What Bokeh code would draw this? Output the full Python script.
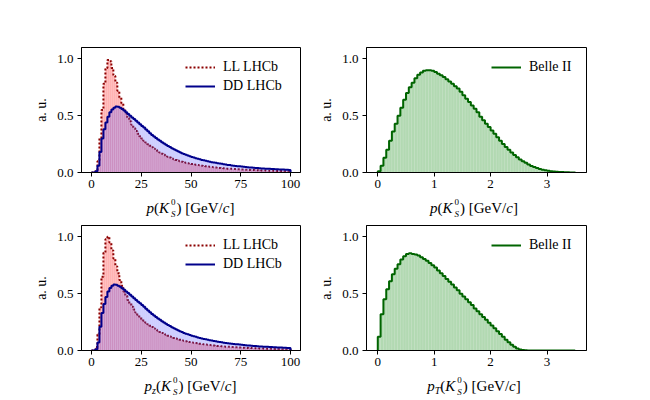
from bokeh.plotting import figure
from bokeh.layouts import column, row
from bokeh.models import Range1d, FixedTicker, NumeralTickFormatter, Legend, LegendItem, Div
from bokeh.embed import file_html
from bokeh.resources import INLINE

# ---------------- data ----------------
lhcb_edges = list(range(0, 101))                     # GeV, 1 GeV bins
belle_edges = [round(i * 0.05, 2) for i in range(71)]  # GeV, 0.05 GeV bins

ll_p = [0.0, 0.0, 0.02, 0.10, 0.30, 0.55, 0.78, 0.92, 0.99, 0.98,
        0.92, 0.85, 0.79, 0.72, 0.66, 0.61, 0.56, 0.52, 0.48, 0.45,
        0.42, 0.39, 0.365, 0.34, 0.32, 0.30, 0.28, 0.264, 0.249, 0.235,
        0.222, 0.209, 0.197, 0.186, 0.175, 0.165, 0.156, 0.147, 0.139, 0.131,
        0.124, 0.117, 0.111, 0.105, 0.1, 0.095, 0.09, 0.086, 0.082, 0.078,
        0.075, 0.072, 0.069, 0.066, 0.063, 0.06, 0.057, 0.055, 0.052, 0.05,
        0.048, 0.046, 0.044, 0.042, 0.04, 0.039, 0.037, 0.036, 0.034, 0.033,
        0.032, 0.031, 0.03, 0.029, 0.028, 0.027, 0.026, 0.025, 0.024, 0.023,
        0.022, 0.021, 0.02, 0.02, 0.019, 0.018, 0.018, 0.017, 0.016, 0.016,
        0.015, 0.015, 0.014, 0.014, 0.013, 0.013, 0.012, 0.012, 0.011, 0.011]

dd_p = [0.0, 0.0, 0.01, 0.06, 0.18, 0.30, 0.38, 0.44, 0.49, 0.53,
        0.555, 0.57, 0.58, 0.578, 0.57, 0.558, 0.545, 0.53, 0.515, 0.5,
        0.485, 0.47, 0.455, 0.44, 0.425, 0.41, 0.395, 0.378, 0.362, 0.346,
        0.331, 0.317, 0.304, 0.291, 0.279, 0.267, 0.256, 0.245, 0.234, 0.224,
        0.214, 0.204, 0.195, 0.186, 0.178, 0.17, 0.163, 0.156, 0.149, 0.143,
        0.137, 0.131, 0.126, 0.121, 0.116, 0.111, 0.107, 0.103, 0.099, 0.095,
        0.091, 0.088, 0.085, 0.082, 0.079, 0.076, 0.073, 0.07, 0.067, 0.065,
        0.062, 0.06, 0.058, 0.056, 0.054, 0.052, 0.05, 0.048, 0.046, 0.045,
        0.043, 0.042, 0.04, 0.039, 0.038, 0.036, 0.035, 0.034, 0.033, 0.032,
        0.031, 0.03, 0.029, 0.028, 0.027, 0.027, 0.026, 0.025, 0.024, 0.023]

ll_pz = [0.0, 0.0, 0.03, 0.14, 0.38, 0.65, 0.86, 0.98, 1.0, 0.95,
         0.88, 0.81, 0.74, 0.68, 0.62, 0.57, 0.52, 0.48, 0.445, 0.415,
         0.385, 0.36, 0.335, 0.313, 0.294, 0.276, 0.26, 0.245, 0.231, 0.218,
         0.206, 0.194, 0.183, 0.173, 0.163, 0.154, 0.146, 0.138, 0.13, 0.123,
         0.117, 0.111, 0.105, 0.1, 0.095, 0.09, 0.086, 0.082, 0.078, 0.074,
         0.071, 0.068, 0.065, 0.062, 0.059, 0.057, 0.054, 0.052, 0.05, 0.048,
         0.046, 0.044, 0.042, 0.04, 0.039, 0.037, 0.036, 0.034, 0.033, 0.032,
         0.031, 0.03, 0.029, 0.028, 0.027, 0.026, 0.025, 0.024, 0.023, 0.022,
         0.021, 0.02, 0.02, 0.019, 0.018, 0.018, 0.017, 0.016, 0.016, 0.015,
         0.015, 0.014, 0.014, 0.013, 0.013, 0.012, 0.012, 0.011, 0.011, 0.011]

dd_pz = [0.0, 0.0, 0.01, 0.07, 0.21, 0.33, 0.41, 0.47, 0.52, 0.55,
         0.57, 0.58, 0.578, 0.57, 0.56, 0.548, 0.535, 0.52, 0.505, 0.49,
         0.475, 0.46, 0.445, 0.43, 0.415, 0.4, 0.384, 0.368, 0.352, 0.337,
         0.322, 0.308, 0.295, 0.282, 0.27, 0.258, 0.247, 0.236, 0.225, 0.215,
         0.205, 0.196, 0.187, 0.178, 0.17, 0.162, 0.155, 0.148, 0.142, 0.136,
         0.13, 0.125, 0.12, 0.115, 0.11, 0.106, 0.102, 0.098, 0.094, 0.09,
         0.087, 0.084, 0.081, 0.078, 0.075, 0.072, 0.069, 0.067, 0.064, 0.062,
         0.06, 0.058, 0.056, 0.054, 0.052, 0.05, 0.048, 0.046, 0.045, 0.043,
         0.042, 0.04, 0.039, 0.038, 0.036, 0.035, 0.034, 0.033, 0.032, 0.031,
         0.03, 0.029, 0.028, 0.027, 0.026, 0.026, 0.025, 0.024, 0.023, 0.022]

belle_p = [0.01, 0.06, 0.13, 0.20, 0.28, 0.36, 0.43, 0.50, 0.57, 0.64,
           0.70, 0.75, 0.79, 0.83, 0.86, 0.88, 0.895, 0.90, 0.90, 0.895,
           0.885, 0.87, 0.855, 0.84, 0.82, 0.80, 0.78, 0.76, 0.74, 0.71,
           0.68, 0.65, 0.62, 0.59, 0.56, 0.53, 0.49, 0.46, 0.43, 0.40,
           0.37, 0.34, 0.31, 0.28, 0.25, 0.225, 0.20, 0.175, 0.155, 0.135,
           0.115, 0.10, 0.085, 0.07, 0.058, 0.048, 0.039, 0.031, 0.025, 0.02,
           0.015, 0.012, 0.009, 0.007, 0.005, 0.004, 0.003, 0.002, 0.001, 0.001]

belle_pt = [0.12, 0.32, 0.45, 0.54, 0.61, 0.67, 0.72, 0.76, 0.80, 0.83,
            0.85, 0.855, 0.85, 0.845, 0.835, 0.82, 0.805, 0.79, 0.77, 0.75,
            0.73, 0.705, 0.68, 0.655, 0.63, 0.605, 0.58, 0.555, 0.53, 0.50,
            0.475, 0.45, 0.425, 0.40, 0.37, 0.345, 0.32, 0.295, 0.27, 0.245,
            0.22, 0.195, 0.17, 0.145, 0.12, 0.095, 0.072, 0.05, 0.032, 0.018,
            0.009, 0.004, 0.002, 0.001, 0.0005, 0.0, 0.0, 0.0, 0.0, 0.0,
            0.0, 0.0, 0.0, 0.0, 0.0, 0.0, 0.0, 0.0, 0.0, 0.0]

lhcb_ticks = [0, 25, 50, 75, 100]
belle_ticks = [0, 1, 2, 3]
y_ticks = [0.0, 0.5, 1.0]

FONT = "Liberation Serif"


def x_label_html(sub, pad_l, frame_w):
    sub_html = ""
    if sub:
        sub_html = ('<span style="font-size:10px;vertical-align:-3px;font-style:italic;">'
                    f'{sub}</span>')
    stack = ('<span style="display:inline-block;vertical-align:-4px;line-height:12px;'
             'font-size:9px;text-align:left;margin-left:2px;margin-right:1px;">'
             '0<br><i>S</i></span>')
    return (f'<div style="display:block;margin-left:{pad_l}px;width:{frame_w}px;'
            f"text-align:center;font-family:'{FONT}';font-size:15px;line-height:16px;"
            f'color:black;white-space:nowrap;">'
            f'<i>p</i>{sub_html}(<i>K</i>{stack}) [GeV/<i>c</i>]</div>')


def make_fig(width, height, bl, br, bt, bb, xr, xticks):
    f = figure(width=width, height=height, x_range=Range1d(*xr), y_range=Range1d(0, 1.1),
               output_backend="svg", toolbar_location=None, title=None,
               min_border_left=bl, min_border_right=br, min_border_top=bt, min_border_bottom=bb)
    f.grid.visible = False
    f.background_fill_color = "white"
    f.border_fill_color = "white"
    f.outline_line_color = "black"
    f.outline_line_width = 1
    f.xaxis.ticker = FixedTicker(ticks=xticks)
    f.yaxis.ticker = FixedTicker(ticks=y_ticks)
    f.yaxis.formatter = NumeralTickFormatter(format="0.0")
    for ax in (f.xaxis, f.yaxis):
        ax.axis_line_color = "black"
        ax.major_tick_line_color = "black"
        ax.major_tick_in = 0
        ax.major_tick_out = 4
        ax.minor_tick_line_color = None
        ax.major_label_text_font = FONT
        ax.major_label_text_font_size = "13px"
        ax.major_label_text_color = "black"
        ax.major_label_standoff = 4
    f.xaxis.major_label_standoff = 3
    f.yaxis.axis_label = "a. u."
    f.yaxis.axis_label_text_font = FONT
    f.yaxis.axis_label_text_font_size = "14px"
    f.yaxis.axis_label_text_font_style = "normal"
    f.yaxis.axis_label_text_color = "black"
    f.yaxis.axis_label_standoff = 5
    return f


def step_xy(edges, vals):
    xs = [edges[0]] + list(edges)
    ys = [0.0] + list(vals) + [0.0]
    return xs, ys


def add_hist(f, edges, vals, fill, falpha, lcolor, dash):
    f.quad(left=edges[:-1], right=edges[1:], bottom=0, top=vals,
           fill_color=fill, fill_alpha=falpha, line_color="white", line_alpha=0.25,
           line_width=0.4)
    xs, ys = step_xy(edges, vals)
    return f.step(xs, ys, mode="after", line_color=lcolor, line_width=2, line_dash=dash)


def add_legend(f, items, label_width):
    leg = Legend(items=[LegendItem(label=l, renderers=[r]) for l, r in items],
                 location="top_right", margin=4, padding=8, spacing=3,
                 glyph_width=30, glyph_height=16, label_height=16, label_width=label_width,
                 label_standoff=8, border_line_alpha=0, background_fill_alpha=0,
                 label_text_font=FONT, label_text_font_size="14px", label_text_color="black")
    f.add_layout(leg)


# geometry (page pixels)
LW, RW = 316, 294
LBL, LBR, LFW = 81, 16, 219     # left figures: borders and frame width
RBL, RBR, RFW = 46, 24, 224     # right figures: borders and frame width
H1, H2 = 196, 152
DH1, DH2 = 26, 24

# top-left: p LHCb
tl = make_fig(LW, H1, LBL, LBR, 47, 24, (-5, 105), lhcb_ticks)
r_ll = add_hist(tl, lhcb_edges, ll_p, "red", 0.3, "#8b0000", "2 2")
r_dd = add_hist(tl, lhcb_edges, dd_p, "blue", 0.2, "#00008b", "solid")
add_legend(tl, [("LL LHCb", r_ll), ("DD LHCb", r_dd)], 65)

# top-right: p Belle II
tr = make_fig(RW, H1, RBL, RBR, 47, 24, (-0.2, 3.7), belle_ticks)
r_b = add_hist(tr, belle_edges, belle_p, "green", 0.3, "#006400", "solid")
add_legend(tr, [("Belle II", r_b)], 45)

# bottom-left: pz LHCb
bl = make_fig(LW, H2, LBL, LBR, 3, 24, (-5, 105), lhcb_ticks)
r_ll2 = add_hist(bl, lhcb_edges, ll_pz, "red", 0.3, "#8b0000", "2 2")
r_dd2 = add_hist(bl, lhcb_edges, dd_pz, "blue", 0.2, "#00008b", "solid")
add_legend(bl, [("LL LHCb", r_ll2), ("DD LHCb", r_dd2)], 65)

# bottom-right: pT Belle II
br = make_fig(RW, H2, RBL, RBR, 3, 24, (-0.2, 3.7), belle_ticks)
r_b2 = add_hist(br, belle_edges, belle_pt, "green", 0.3, "#006400", "solid")
add_legend(br, [("Belle II", r_b2)], 45)

lab_tl = Div(text=x_label_html(None, LBL, LFW), width=LW, height=DH1, margin=0)
lab_tr = Div(text=x_label_html(None, RBL, RFW), width=RW, height=DH1, margin=0)
lab_bl = Div(text=x_label_html("z", LBL, LFW), width=LW, height=DH2, margin=0)
lab_br = Div(text=x_label_html("T", RBL, RFW), width=RW, height=DH2, margin=0)

layout = column(row(tl, tr), row(lab_tl, lab_tr), row(bl, br), row(lab_bl, lab_br))

open("out.html", "w").write(file_html(layout, INLINE))
